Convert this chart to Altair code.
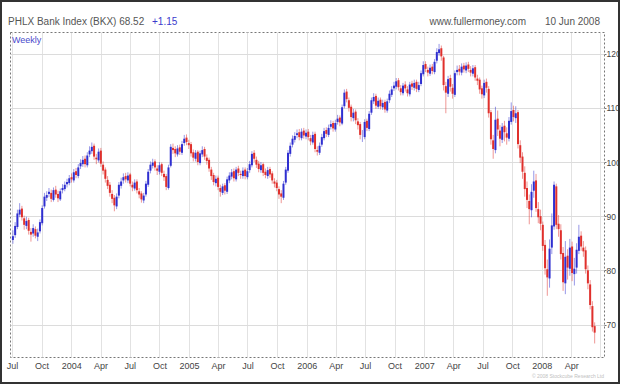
import altair as alt
import pandas as pd

# Weekly bars, week ending Friday, from early Jul 2003 to Jun 2008
WEEK_START = "2003-07-04"
N_WEEKS = 259

OPEN = [
    85.6, 86.5, 88.0, 90.3, 91.4, 89.6, 88.2, 89.3, 87.1, 86.8,
    87.6, 86.2, 87.2, 88.7, 91.8, 93.4, 94.1, 94.3, 93.0, 94.9,
    94.1, 93.1, 94.8, 95.0, 95.9, 96.1, 97.2, 96.6, 98.3, 97.4,
    99.2, 99.6, 100.6, 99.4, 101.4, 102.0, 103.0, 100.8, 100.3, 102.1,
    99.5, 98.6, 96.7, 95.8, 94.1, 93.4, 91.8, 93.8, 95.6, 96.6,
    97.4, 96.6, 97.7, 95.8, 95.1, 96.4, 94.6, 94.2, 92.9, 94.0,
    95.8, 98.4, 99.3, 100.1, 98.8, 98.2, 99.6, 97.8, 97.4, 95.2,
    99.3, 102.6, 102.4, 101.4, 102.7, 101.7, 103.5, 104.5, 103.5, 103.3,
    101.8, 100.6, 101.9, 99.8, 101.4, 102.4, 100.8, 100.4, 98.6, 97.6,
    96.1, 97.1, 95.2, 94.3, 95.7, 94.5, 96.6, 97.3, 98.3, 96.8,
    98.8, 97.8, 97.4, 98.6, 97.2, 98.5, 99.4, 101.7, 100.4, 99.7,
    98.5, 99.6, 98.2, 97.4, 98.7, 97.9, 96.4, 96.2, 95.0, 94.2,
    93.4, 96.2, 98.4, 101.5, 103.2, 104.1, 105.0, 105.5, 104.4, 105.8,
    104.7, 105.6, 104.4, 103.6, 105.2, 102.2, 101.7, 103.2, 104.4, 105.9,
    105.0, 106.5, 107.2, 106.0, 107.4, 108.2, 107.1, 110.3, 113.0, 111.4,
    110.2, 108.1, 109.3, 107.5, 107.0, 104.8, 104.6, 107.6, 106.1, 109.1,
    111.2, 112.2, 110.2, 111.5, 110.1, 111.1, 109.5, 111.4, 112.4, 113.6,
    113.9, 115.1, 113.6, 112.7, 114.3, 113.4, 112.5, 114.5, 113.7, 114.8,
    113.3, 114.4, 116.2, 118.1, 117.0, 116.3, 117.6, 116.6, 118.7, 120.1,
    121.0, 119.3, 114.0, 112.6, 115.5, 113.7, 112.4, 116.6, 117.2, 116.5,
    117.8, 116.9, 118.0, 117.0, 116.3, 117.5, 115.4, 115.2, 113.6, 112.3,
    114.8, 113.5, 109.2, 104.0, 102.2, 108.0, 105.8, 104.1, 106.7, 105.3,
    104.3, 107.4, 109.6, 108.1, 109.2, 103.1, 101.0, 98.0, 95.2, 92.8,
    91.1, 94.7, 96.6, 91.3, 90.0, 88.4, 84.7, 80.2, 78.5, 84.2,
    88.1, 95.5, 88.6, 87.4, 83.2, 77.6, 82.7, 80.3, 84.4, 79.3,
    80.5, 83.6, 86.4, 84.2, 83.7, 80.0, 77.4, 73.4, 69.7,
]

HIGH = [
    87.4, 88.9, 91.2, 92.4, 91.9, 90.1, 89.9, 89.7, 87.8, 88.5,
    88.1, 87.7, 89.4, 92.0, 94.3, 94.6, 95.2, 94.9, 95.3, 95.6,
    94.7, 95.1, 95.9, 96.4, 96.9, 97.6, 97.9, 98.7, 98.9, 99.6,
    100.5, 101.1, 101.2, 101.8, 102.9, 103.6, 103.4, 101.5, 102.5, 102.6,
    100.1, 99.0, 97.4, 96.3, 94.8, 93.9, 94.2, 96.3, 97.1, 97.9,
    98.0, 98.1, 98.0, 96.4, 96.8, 96.8, 95.2, 94.6, 94.3, 96.5,
    98.7, 100.1, 100.6, 100.5, 99.4, 100.0, 99.9, 98.4, 97.8, 99.5,
    103.3, 103.4, 102.9, 103.1, 103.2, 103.9, 105.0, 105.1, 104.1, 103.7,
    102.3, 102.2, 102.2, 102.1, 102.9, 102.8, 101.4, 100.8, 99.1, 98.0,
    97.5, 97.5, 95.8, 96.0, 96.1, 97.3, 98.1, 98.7, 98.8, 99.1,
    99.3, 98.4, 99.0, 99.0, 98.9, 100.2, 102.0, 102.2, 101.0, 100.2,
    100.0, 99.9, 98.8, 99.1, 99.1, 98.3, 97.0, 96.7, 95.5, 94.8,
    96.5, 99.1, 102.2, 103.6, 104.9, 105.5, 106.0, 106.1, 106.2, 106.3,
    106.0, 106.1, 105.0, 105.6, 105.6, 102.9, 103.6, 105.2, 106.3, 106.4,
    106.9, 107.7, 107.6, 107.8, 108.7, 108.6, 110.6, 113.4, 113.5, 111.9,
    110.6, 109.8, 109.7, 108.1, 107.4, 105.9, 107.9, 108.0, 109.4, 111.9,
    112.7, 112.6, 111.9, 111.9, 111.5, 111.5, 111.7, 113.2, 114.0, 114.8,
    115.5, 115.5, 114.2, 114.6, 114.9, 114.0, 114.8, 115.0, 115.2, 115.2,
    114.8, 116.9, 118.6, 118.6, 117.6, 118.0, 118.1, 119.0, 121.0, 121.8,
    121.5, 119.6, 114.8, 115.9, 116.1, 114.4, 116.9, 117.8, 117.9, 118.2,
    118.3, 118.4, 118.5, 117.7, 117.9, 117.9, 116.1, 115.6, 114.1, 115.2,
    115.4, 114.0, 109.6, 105.0, 110.2, 109.5, 106.8, 107.2, 107.6, 106.4,
    108.3, 111.0, 110.4, 110.3, 109.6, 104.0, 101.8, 99.2, 96.4, 94.0,
    95.9, 98.4, 97.8, 92.6, 91.2, 89.0, 85.6, 82.0, 85.7, 90.5,
    96.4, 96.0, 90.2, 88.5, 84.3, 85.4, 83.9, 85.8, 85.3, 82.3,
    85.0, 88.4, 87.2, 85.4, 84.4, 80.9, 78.2, 74.3, 70.4,
]

LOW = [
    84.9, 86.0, 87.6, 89.8, 89.2, 87.5, 87.6, 86.6, 85.3, 86.2,
    85.9, 85.4, 86.8, 88.3, 91.4, 92.8, 93.5, 92.6, 92.7, 93.4,
    92.6, 92.8, 94.2, 94.6, 95.3, 95.7, 96.2, 96.2, 97.0, 97.0,
    98.7, 99.1, 99.0, 99.0, 100.9, 101.5, 100.4, 99.6, 99.9, 99.1,
    97.7, 96.2, 95.0, 93.6, 92.4, 90.9, 91.3, 93.3, 95.1, 96.0,
    96.2, 96.1, 95.5, 94.6, 94.7, 94.2, 93.3, 92.5, 92.4, 93.6,
    95.4, 97.9, 98.8, 98.4, 97.6, 97.7, 97.4, 96.5, 94.8, 94.9,
    99.0, 101.5, 100.9, 101.0, 101.3, 101.3, 103.0, 103.1, 102.4, 101.0,
    100.1, 100.1, 99.4, 99.4, 100.9, 100.4, 99.5, 98.2, 96.7, 95.7,
    95.5, 94.8, 93.6, 93.9, 94.0, 94.1, 96.1, 96.8, 96.4, 96.4,
    97.4, 96.9, 96.9, 96.8, 96.8, 98.0, 99.0, 100.0, 98.9, 98.1,
    98.0, 97.4, 97.0, 96.9, 97.1, 96.0, 95.3, 94.6, 93.2, 92.4,
    93.0, 95.8, 98.0, 101.0, 102.7, 103.6, 104.4, 104.0, 104.0, 104.3,
    104.2, 104.0, 103.1, 103.2, 101.8, 101.2, 101.3, 102.8, 104.0, 104.6,
    104.6, 106.0, 105.6, 105.6, 106.9, 106.6, 106.8, 109.9, 111.0, 109.3,
    107.5, 107.5, 107.0, 106.0, 104.2, 103.7, 104.2, 105.7, 105.7, 108.7,
    110.7, 109.8, 109.8, 109.7, 109.6, 109.1, 109.1, 110.9, 112.0, 113.1,
    113.4, 113.2, 112.3, 112.3, 113.0, 112.1, 112.1, 113.3, 113.2, 112.9,
    112.9, 114.0, 115.8, 116.6, 115.8, 115.9, 116.2, 116.2, 118.2, 119.6,
    118.7, 113.2, 109.0, 112.0, 113.0, 111.7, 112.0, 116.0, 116.0, 116.0,
    116.5, 116.4, 116.6, 115.8, 115.8, 115.0, 114.2, 112.6, 111.7, 111.8,
    112.8, 108.2, 103.2, 100.6, 101.6, 104.8, 102.9, 103.5, 103.8, 103.2,
    103.8, 106.9, 107.5, 107.2, 102.5, 99.8, 96.9, 93.6, 91.5, 88.5,
    89.8, 93.4, 90.8, 88.7, 87.4, 83.6, 79.2, 75.3, 76.8, 83.0,
    87.5, 87.6, 86.2, 82.0, 76.2, 75.6, 78.3, 79.0, 78.0, 77.2,
    79.4, 83.0, 83.6, 82.5, 79.4, 76.5, 72.8, 68.7, 66.5,
]

CLOSE = [
    86.3, 88.2, 90.5, 91.2, 89.8, 88.4, 89.1, 87.3, 86.6, 87.8,
    86.4, 87.0, 88.9, 91.5, 93.6, 93.9, 94.5, 93.2, 94.8, 94.0,
    93.3, 94.6, 95.2, 95.8, 96.3, 97.0, 96.8, 98.1, 97.6, 99.0,
    99.8, 100.4, 99.6, 101.2, 102.1, 102.8, 101.0, 100.5, 101.9, 99.7,
    98.4, 96.9, 95.6, 94.3, 93.2, 92.0, 93.6, 95.8, 96.4, 97.2,
    96.8, 97.5, 96.0, 95.3, 96.2, 94.8, 94.0, 93.1, 93.8, 96.0,
    98.2, 99.5, 99.9, 99.0, 98.4, 99.4, 98.0, 97.2, 95.4, 99.0,
    102.8, 102.2, 101.6, 102.5, 101.9, 103.3, 104.3, 103.7, 103.1, 101.6,
    100.8, 101.7, 100.0, 101.6, 102.2, 101.0, 100.2, 98.8, 97.4, 96.3,
    96.9, 95.4, 94.5, 95.5, 94.7, 96.8, 97.5, 98.1, 97.0, 98.6,
    98.0, 97.6, 98.4, 97.4, 98.3, 99.6, 101.5, 100.6, 99.5, 98.7,
    99.4, 98.0, 97.6, 98.5, 97.7, 96.6, 96.0, 95.2, 94.0, 93.6,
    96.0, 98.6, 101.7, 103.0, 104.3, 104.8, 105.3, 104.6, 105.6, 104.9,
    105.4, 104.6, 103.8, 105.0, 102.4, 101.9, 103.0, 104.6, 105.7, 105.2,
    106.3, 107.0, 106.2, 107.2, 108.0, 107.3, 110.1, 112.8, 111.6, 110.0,
    108.3, 109.1, 107.7, 106.8, 105.0, 104.8, 107.4, 106.3, 108.9, 111.4,
    112.0, 110.4, 111.3, 110.3, 110.9, 109.7, 111.2, 112.6, 113.4, 114.1,
    114.9, 113.8, 112.9, 114.1, 113.6, 112.7, 114.3, 113.9, 114.6, 113.5,
    114.2, 116.4, 117.9, 117.2, 116.5, 117.4, 116.8, 118.5, 120.3, 120.8,
    119.5, 114.2, 112.8, 115.3, 113.9, 112.6, 116.4, 117.0, 116.7, 117.6,
    117.1, 117.8, 117.2, 116.5, 117.3, 115.6, 115.0, 113.4, 112.5, 114.6,
    113.7, 109.0, 104.2, 102.4, 107.8, 106.0, 104.3, 106.5, 105.5, 104.5,
    107.6, 109.4, 108.3, 109.0, 103.3, 100.8, 98.2, 95.0, 93.0, 91.3,
    94.5, 96.4, 91.5, 89.8, 88.6, 84.5, 80.4, 78.7, 84.0, 88.3,
    95.8, 88.4, 87.6, 83.0, 77.8, 82.5, 80.5, 84.2, 79.5, 80.3,
    83.8, 86.2, 84.4, 83.5, 80.2, 77.6, 73.6, 69.5, 68.5,
]

Y_TICKS = [70, 80, 90, 100, 110, 120]

BLUE = "#2f2fd0"
RED = "#e0302c"
FONT = "Liberation Sans"

dates = pd.date_range(WEEK_START, periods=N_WEEKS, freq="7D").strftime("%Y-%m-%dT00:00:00")
df = pd.DataFrame({"date": dates, "open": OPEN, "high": HIGH, "low": LOW, "close": CLOSE})
df["dir"] = ["up" if c >= o else "down" for o, c in zip(OPEN, CLOSE)]

W, H = 594, 325

x_enc = alt.X(
    "date:T",
    scale=alt.Scale(domain=[alt.DateTime(year=2003, month=6, date=25),
                            alt.DateTime(year=2008, month=7, date=12)]),
    axis=alt.Axis(
        title=None,
        tickCount={"interval": "month", "step": 3},
        labelExpr=("datum.value > datetime(2008, 5, 1) ? '' : "
                   "(month(datum.value) == 0 ? timeFormat(datum.value, '%Y') "
                   ": timeFormat(datum.value, '%b'))"),
        ticks=False,
        labelPadding=4,
        labelFlush=False,
        labelOverlap=False,
        gridColor="#e2e2e2",
    ),
)
y_scale = alt.Scale(domain=[64, 124], nice=False, zero=False)
color_enc = alt.Color("dir:N", scale=alt.Scale(domain=["up", "down"], range=[BLUE, RED]), legend=None)

base = alt.Chart(df)

wicks = base.mark_rule(strokeWidth=1, opacity=0.5).encode(
    x=x_enc,
    y=alt.Y("low:Q", scale=y_scale,
            axis=alt.Axis(title=None, orient="right", values=Y_TICKS, tickSize=2,
                          labelPadding=0, labelFontSize=8.5,
                          gridColor="#dcdcdc", tickColor="#777")),
    y2="high:Q",
    color=color_enc,
)
bodies = base.mark_rule(strokeWidth=2).encode(
    x="date:T",
    y=alt.Y("open:Q", scale=y_scale),
    y2="close:Q",
    color=color_enc,
)

one = pd.DataFrame({"k": [0]})

def label(text, x, y, color="#555", size=10, align="left"):
    return alt.Chart(one).mark_text(
        text=text, align=align, baseline="middle", font=FONT, fontSize=size, color=color
    ).encode(x=alt.value(x), y=alt.value(y))

texts = [
    label("PHLX Bank Index (BKX) 68.52", -2, -10),
    label("+1.15", 142, -10, color="#3b3bcc"),
    label("www.fullermoney.com", 516, -10, align="right"),
    label("10 Jun 2008", 590, -10, align="right"),
    label("Weekly", 2, 8, color="#4a4acc", size=9),
    label("\u00a9 2008 Stockcube Research Ltd", 594, 344, color="#c0c0c0", size=5, align="right"),
]

frame = alt.Chart(one).mark_rect(fill=None, stroke="#333", strokeWidth=2).encode(
    x=alt.value(-9), x2=alt.value(609), y=alt.value(-31), y2=alt.value(351)
)

chart = alt.layer(wicks, bodies, *texts, frame).properties(
    width=W, height=H,
    autosize=alt.AutoSizeParams(type="none"),
    padding={"left": 10, "top": 32, "right": 16, "bottom": 27},
    background="white",
).configure_view(
    stroke="#777", strokeDash=[2, 2], strokeWidth=1
).configure_axis(
    labelFont=FONT, labelFontSize=9, labelColor="#444", domain=False
)

chart.save("out.html", embed_options={"renderer": "svg", "actions": False})
